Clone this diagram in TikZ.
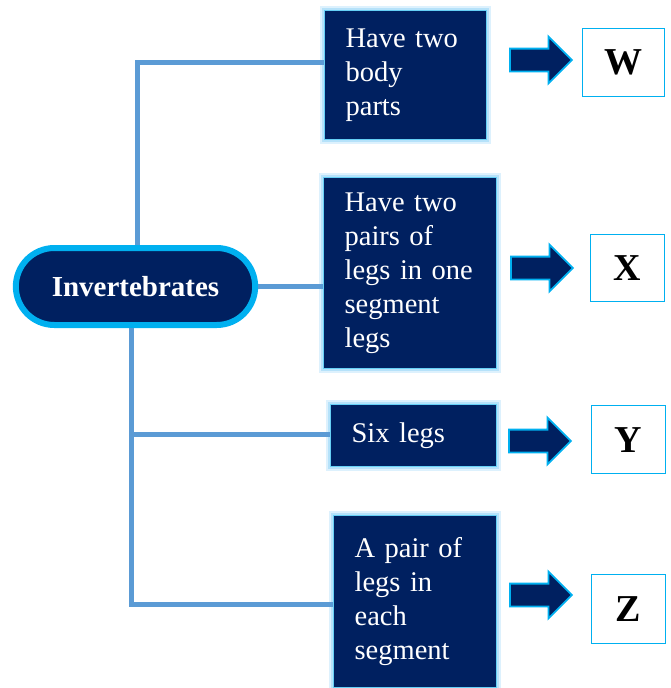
\documentclass[tikz,border=0pt]{standalone}
\usepackage{fontspec}
\setmainfont{Liberation Serif}
\usetikzlibrary{shapes.arrows,shapes.misc}
\definecolor{navy}{HTML}{002060}
\definecolor{cyanb}{HTML}{00B0F0}
\definecolor{connc}{HTML}{5B9BD5}
\definecolor{glow}{HTML}{9DD8F8}
\begin{document}
\begin{tikzpicture}[x=1pt,y=-1pt,
  box/.style={fill=navy, draw=cyanb!60, line width=1.2pt, text=white, align=left,
    inner xsep=21pt, inner ysep=0pt, anchor=north west,
    font=\fontsize{28.5}{34}\selectfont,
    preaction={draw=glow, line width=9pt, opacity=.35},
    preaction={draw=glow, line width=5pt, opacity=.6}},
  letterbox/.style={fill=white, draw=cyanb, line width=1.3pt, anchor=north west,
    inner sep=0pt, font=\fontsize{38}{40}\selectfont\bfseries},
  bigarrow/.style={single arrow, fill=navy, draw=cyanb, line width=1.8pt,
    minimum height=62pt, minimum width=0pt, inner xsep=0pt, inner ysep=10.5pt,
    single arrow head extend=12pt, anchor=west},
  connline/.style={draw=connc, line width=5pt},
  pill/.style={rounded rectangle, fill=navy, draw=cyanb, line width=6pt,
    minimum width=246pt, minimum height=77pt, text=white,
    font=\fontsize{29}{32}\selectfont\bfseries}]
\useasboundingbox (0,0) rectangle (671,688);

\node[pill] (inv) at (135.5,286.5) {Invertebrates};

\node[box, text width=120pt, minimum height=129pt] (b1) at (324,10) {Have two\\body\\parts};
\node[box, text width=131pt, minimum height=191pt] (b2) at (323,177) {Have two\\pairs of\\legs in one\\segment\\legs};
\node[box, text width=124pt, minimum height=62pt] (b3) at (330,404) {Six legs};
\node[box, text width=121pt, minimum height=172pt] (b4) at (333,515) {A pair of\\legs in\\each\\segment};

\node[bigarrow] (a1) at (509,60) {};
\node[bigarrow] (a2) at (510,268) {};
\node[bigarrow] (a3) at (508,441) {};
\node[bigarrow] (a4) at (509,595) {};

\node[letterbox, minimum width=82pt, minimum height=68pt] (w) at (582,28) {W};
\node[letterbox, minimum width=74pt, minimum height=67pt] (x) at (590,234) {X};
\node[letterbox, minimum width=74pt, minimum height=68pt] (y) at (591,405) {Y};
\node[letterbox, minimum width=74pt, minimum height=69pt] (z) at (591,574) {Z};

\coordinate (t1) at (137,62);
\coordinate (t3) at (131,434);
\coordinate (t4) at (131,604);
\draw[connline] (inv.north -| t1) |- (b1.west |- t1);
\draw[connline] (inv.east) -- (inv.east -| b2.west);
\draw[connline] (inv.south -| t4) |- (b4.west |- t4);
\draw[connline] (t3) -- (b3.west |- t3);
\end{tikzpicture}
\end{document}
